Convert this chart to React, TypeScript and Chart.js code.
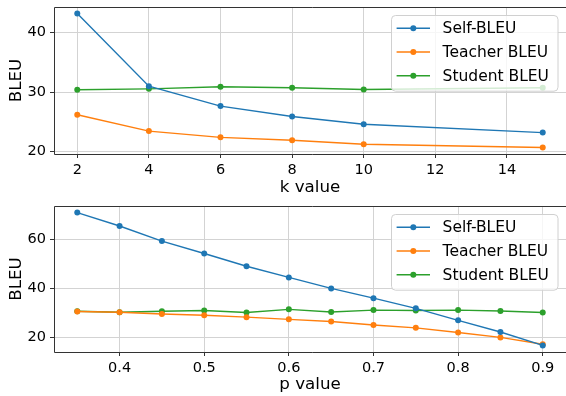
import React, { useEffect, useRef } from "react";
import { Chart, registerables } from "chart.js";

Chart.register(...registerables);

// ---- Data: top panel (k value) ----
const kValues = [2, 4, 6, 8, 10, 15];
const kSelfBleu = [43.2, 31.0, 27.65, 25.9, 24.6, 23.2];
const kTeacherBleu = [26.2, 23.45, 22.4, 21.9, 21.25, 20.7];
const kStudentBleu = [30.4, 30.55, 30.9, 30.74, 30.45, 30.74];
const kXTicks = [2, 4, 6, 8, 10, 12, 14];
const kYTicks = [20, 30, 40];

// ---- Data: bottom panel (p value) ----
const pValues = [0.35, 0.4, 0.45, 0.5, 0.55, 0.6, 0.65, 0.7, 0.75, 0.8, 0.85, 0.9];
const pSelfBleu = [71.1, 65.6, 59.4, 54.3, 49.1, 44.5, 40.0, 36.0, 31.8, 26.9, 22.1, 16.6];
const pTeacherBleu = [30.5, 30.2, 29.5, 29.0, 28.2, 27.3, 26.4, 25.0, 23.8, 21.9, 19.9, 17.1];
const pStudentBleu = [30.6, 30.2, 30.6, 30.9, 30.1, 31.4, 30.3, 31.1, 30.9, 31.1, 30.7, 30.1];
const pXTicks = [0.4, 0.5, 0.6, 0.7, 0.8, 0.9];
const pYTicks = [20, 40, 60];

const seriesLabels = ["Self-BLEU", "Teacher BLEU", "Student BLEU"];
const seriesColors = ["#1f77b4", "#ff7f0e", "#2ca02c"];

const FONT = '"DejaVu Sans", "Liberation Sans", sans-serif';

const spinePlugin = {
  id: "spines",
  afterDatasetsDraw(chart: any) {
    const { ctx, chartArea } = chart;
    const l = Math.round(chartArea.left) + 0.5;
    const t = Math.round(chartArea.top) + 0.5;
    const b = Math.round(chartArea.bottom) + 0.5;
    const r = chartArea.right + 5;
    ctx.save();
    ctx.strokeStyle = "#333333";
    ctx.lineWidth = 1;
    ctx.beginPath();
    ctx.moveTo(r, t);
    ctx.lineTo(l, t);
    ctx.lineTo(l, b);
    ctx.lineTo(r, b);
    ctx.stroke();
    ctx.restore();
  },
};

const boxLegendPlugin = {
  id: "boxLegend",
  afterDraw(chart: any) {
    const { ctx, chartArea } = chart;
    const w = 166.5;
    const h = 75.7;
    const x = chartArea.right - 8.5 - w;
    const y = chartArea.top + 8;
    ctx.save();
    ctx.beginPath();
    ctx.roundRect(x + 0.5, y + 0.5, w, h, 4);
    ctx.fillStyle = "rgba(255,255,255,0.8)";
    ctx.fill();
    ctx.strokeStyle = "#d0d0d0";
    ctx.lineWidth = 1;
    ctx.stroke();
    chart.data.datasets.forEach((ds: any, i: number) => {
      const cy = y + 13.3 + i * 23.7;
      ctx.strokeStyle = ds.borderColor;
      ctx.lineWidth = 1.5;
      ctx.beginPath();
      ctx.moveTo(x + 5.6, cy);
      ctx.lineTo(x + 39, cy);
      ctx.stroke();
      ctx.fillStyle = ds.borderColor;
      ctx.beginPath();
      ctx.arc(x + 22.3, cy, 3, 0, Math.PI * 2);
      ctx.fill();
      ctx.fillStyle = "#000000";
      ctx.font = `15.5px ${FONT}`;
      ctx.textBaseline = "middle";
      ctx.textAlign = "left";
      ctx.fillText(ds.label, x + 51.6, cy + 1);
    });
    ctx.restore();
  },
};

function makeConfig(opts: {
  xs: number[];
  series: number[][];
  xMin: number;
  xMax: number;
  xTicks: number[];
  yMin: number;
  yMax: number;
  yTicks: number[];
  xTitle: string;
  xFmt: (v: number) => string;
  padTop: number;
  titlePadBottom: number;
}): any {
  const datasets = opts.series.map((vals, i) => ({
    label: seriesLabels[i],
    data: opts.xs.map((x, j) => ({ x, y: vals[j] })),
    borderColor: seriesColors[i],
    backgroundColor: seriesColors[i],
    borderWidth: 1.4,
    pointRadius: 3,
    pointBorderWidth: 0,
    pointBackgroundColor: seriesColors[i],
    tension: 0,
    fill: false,
  }));
  return {
    type: "line",
    data: { datasets },
    plugins: [spinePlugin, boxLegendPlugin],
    options: {
      animation: false,
      responsive: false,
      events: [],
      layout: { padding: { top: opts.padTop, right: 2, left: 0, bottom: 0 } },
      plugins: {
        legend: { display: false },
        tooltip: { enabled: false },
      },
      scales: {
        x: {
          type: "linear",
          min: opts.xMin,
          max: opts.xMax,
          afterBuildTicks: (scale: any) => {
            scale.ticks = opts.xTicks.map((v) => ({ value: v }));
          },
          afterFit: (scale: any) => {
            scale.height = 44;
            scale.paddingLeft = 0;
            scale.paddingRight = 0;
          },
          border: { display: false },
          grid: {
            color: "#d3d3d3",
            lineWidth: 1,
            drawTicks: true,
            tickLength: 4,
            tickColor: "#333333",
          },
          ticks: {
            autoSkip: false,
            maxRotation: 0,
            padding: 4,
            color: "#000000",
            font: { family: FONT, size: 14.5 },
            callback: (v: any) => opts.xFmt(Number(v)),
          },
          title: {
            display: true,
            text: opts.xTitle,
            color: "#000000",
            font: { family: FONT, size: 16.7 },
            padding: { top: 0, bottom: opts.titlePadBottom },
          },
        },
        y: {
          type: "linear",
          min: opts.yMin,
          max: opts.yMax,
          afterBuildTicks: (scale: any) => {
            scale.ticks = opts.yTicks.map((v) => ({ value: v }));
          },
          afterFit: (scale: any) => {
            scale.width = 54;
            scale.paddingTop = 0;
            scale.paddingBottom = 0;
          },
          border: { display: false },
          grid: {
            color: "#d3d3d3",
            lineWidth: 1,
            drawTicks: true,
            tickLength: 4,
            tickColor: "#333333",
          },
          ticks: {
            autoSkip: false,
            padding: 4,
            color: "#000000",
            font: { family: FONT, size: 14.5 },
            callback: (v: any) => String(v),
          },
          title: {
            display: true,
            text: "BLEU",
            color: "#000000",
            font: { family: FONT, size: 16.7 },
            padding: { top: 7, bottom: 0 },
          },
        },
      },
    },
  };
}

export default function App() {
  const topRef = useRef<HTMLCanvasElement>(null);
  const botRef = useRef<HTMLCanvasElement>(null);

  useEffect(() => {
    const top = new Chart(
      topRef.current as HTMLCanvasElement,
      makeConfig({
        xs: kValues,
        series: [kSelfBleu, kTeacherBleu, kStudentBleu],
        xMin: 1.35,
        xMax: 15.65,
        xTicks: kXTicks,
        yMin: 19.6,
        yMax: 44.3,
        yTicks: kYTicks,
        xTitle: "k value",
        xFmt: (v) => String(v),
        padTop: 7,
        titlePadBottom: 0,
      })
    );
    const bot = new Chart(
      botRef.current as HTMLCanvasElement,
      makeConfig({
        xs: pValues,
        series: [pSelfBleu, pTeacherBleu, pStudentBleu],
        xMin: 0.3225,
        xMax: 0.9275,
        xTicks: pXTicks,
        yMin: 13.9,
        yMax: 73.8,
        yTicks: pYTicks,
        xTitle: "p value",
        xFmt: (v) => v.toFixed(1),
        padTop: 8,
        titlePadBottom: 1,
      })
    );
    return () => {
      top.destroy();
      bot.destroy();
    };
  }, []);

  return (
    <div
      style={{
        position: "absolute",
        left: 0,
        top: 0,
        width: 566,
        height: 396,
        overflow: "hidden",
        background: "#ffffff",
      }}
    >
      <canvas
        ref={topRef}
        width={570}
        height={198}
        style={{ position: "absolute", left: 0, top: 0, width: 570, height: 198 }}
      />
      <canvas
        ref={botRef}
        width={570}
        height={198}
        style={{ position: "absolute", left: 0, top: 198, width: 570, height: 198 }}
      />
    </div>
  );
}
